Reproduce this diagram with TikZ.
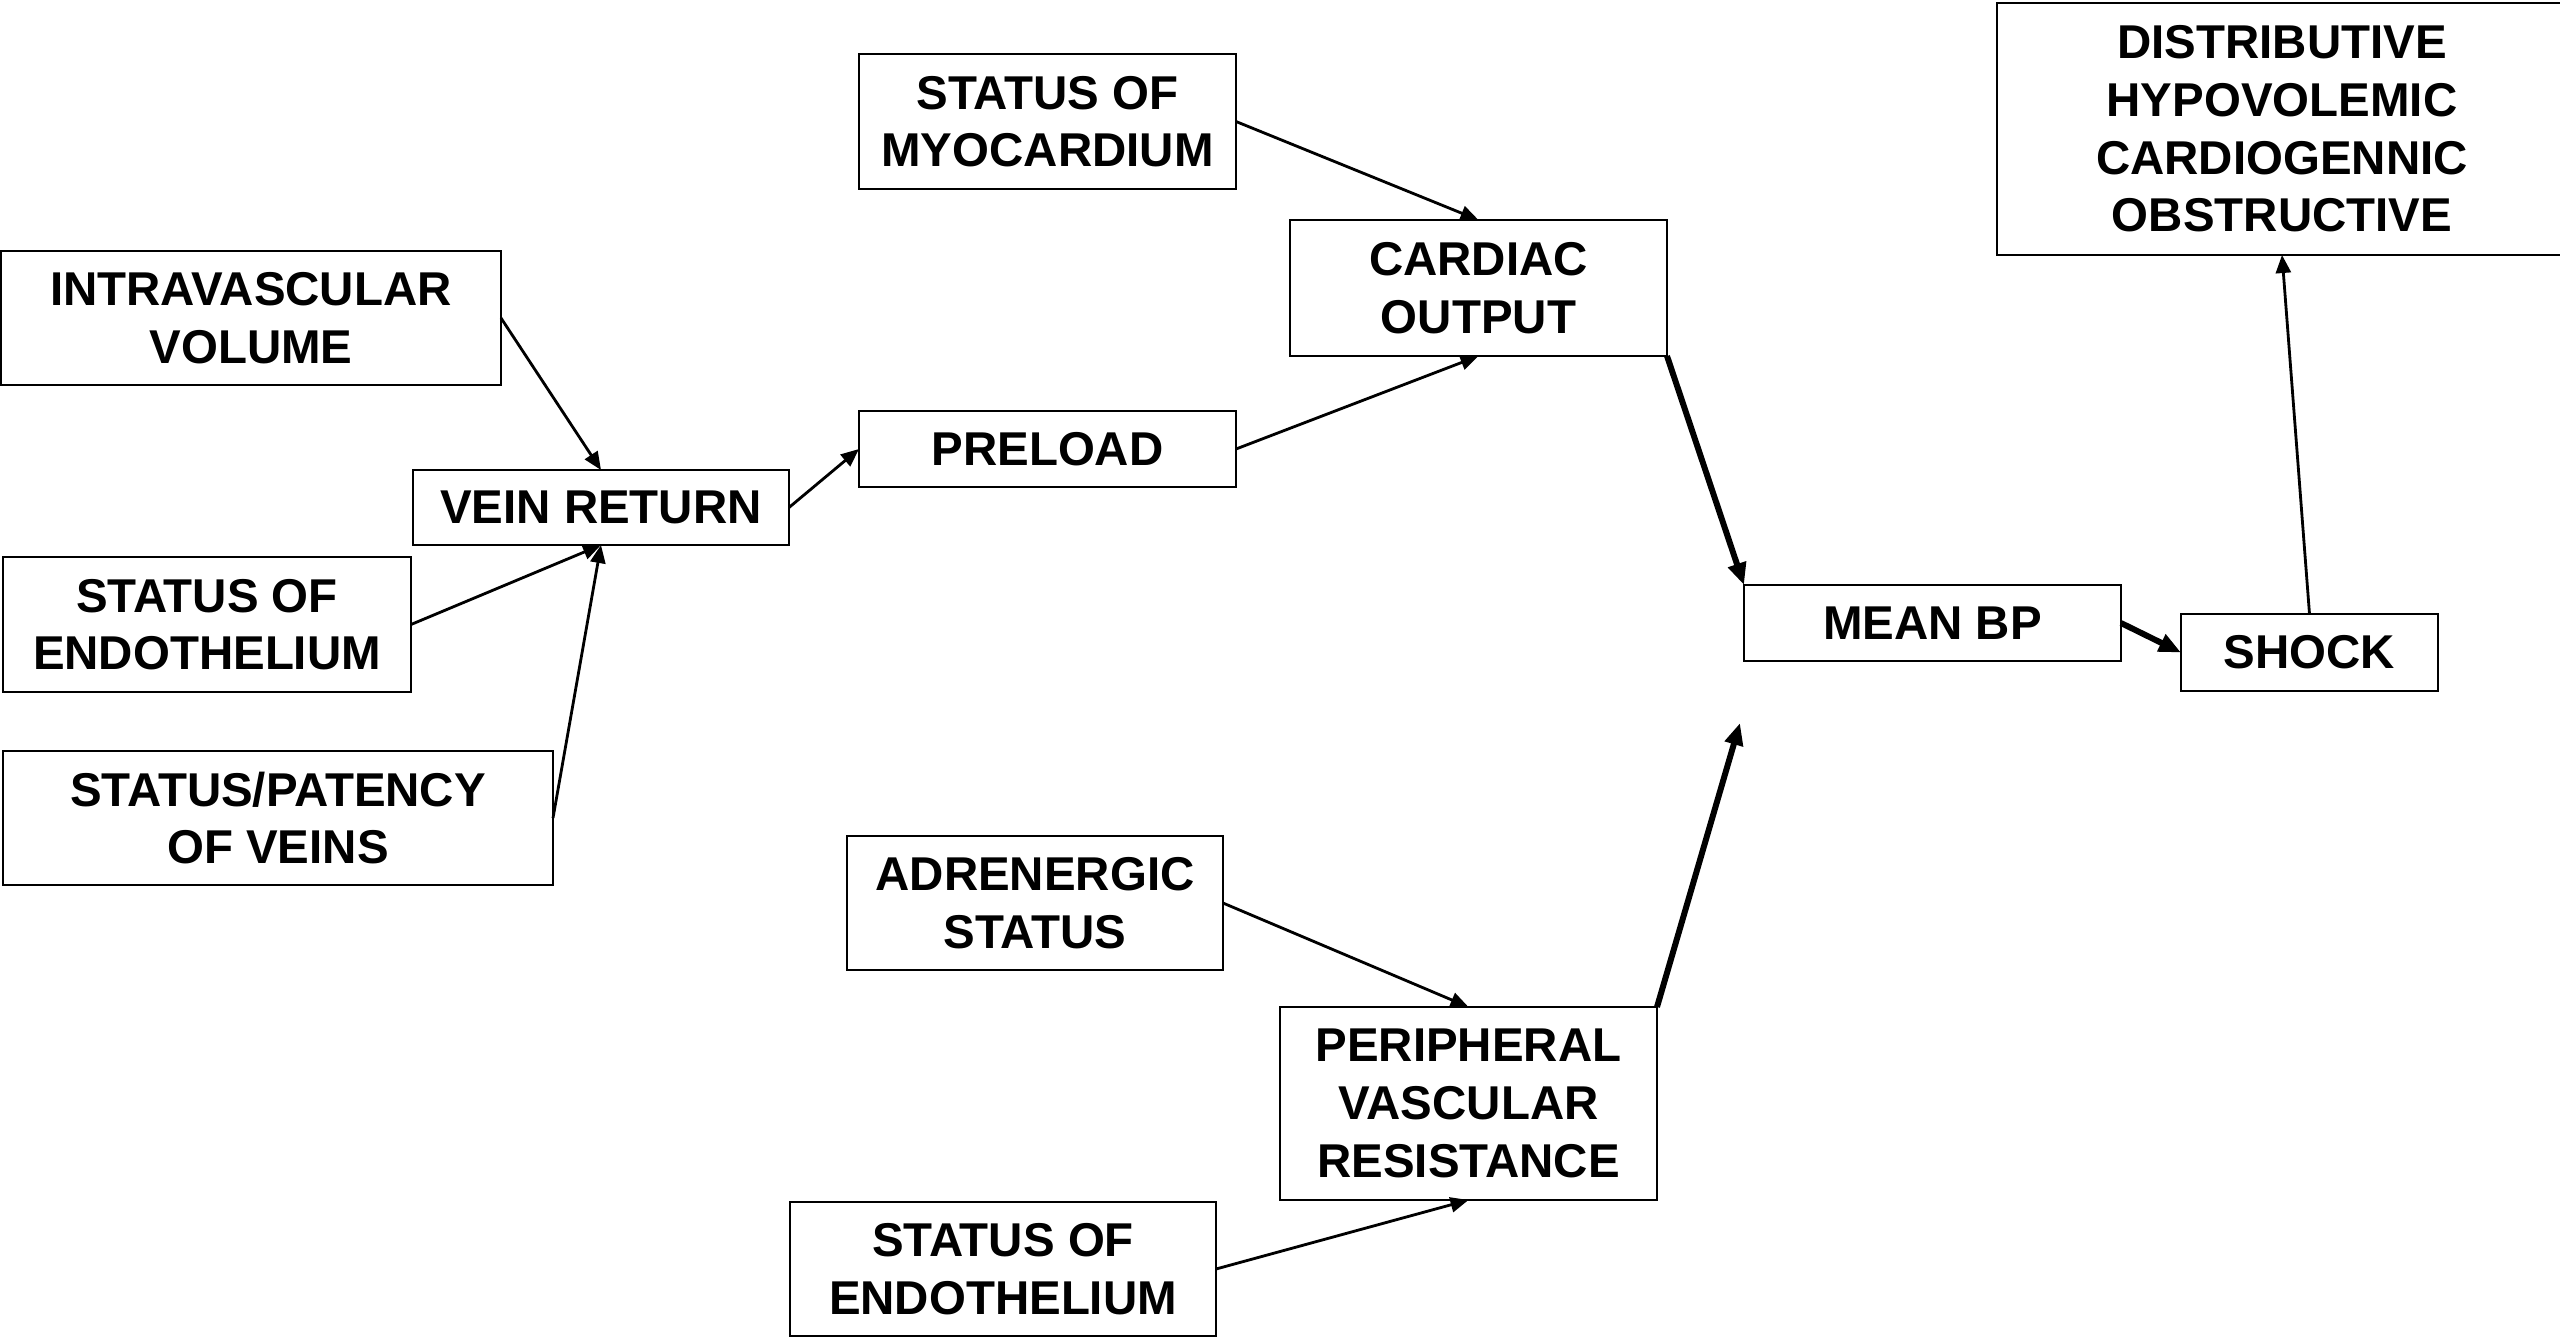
\documentclass[tikz,border=0pt]{standalone}
\usepackage{fontspec}
\setmainfont{Liberation Sans}
\usetikzlibrary{arrows.meta}

\tikzset{
  box/.style={draw=black, line width=0.75pt, rectangle, inner sep=0pt, outer sep=0pt,
    align=center, font=\fontsize{13.5}{16.4}\selectfont\bfseries},
  thin arrow/.style={line width=0.8pt, -{Triangle[length=1.8mm, width=1.5mm]}},
  thick arrow/.style={line width=1.7pt, -{Triangle[length=2.2mm, width=1.8mm]}},
  plain link/.style={line width=0.8pt, -{Triangle[length=1.8mm, width=1.5mm]}}
}

\begin{document}
\begin{tikzpicture}[x=0.1mm, y=-0.1mm]
\useasboundingbox (0,0) rectangle (2560,1340);

% factors feeding venous return
\node[box, minimum width=50.0mm, minimum height=13.4mm] (intra) at (251,318) {INTRAVASCULAR\\VOLUME};
\node[box, minimum width=40.8mm, minimum height=13.5mm] (endoA) at (207,624.5) {STATUS OF\\ENDOTHELIUM};
\node[box, minimum width=55.0mm, minimum height=13.4mm] (patency) at (278,818) {STATUS/PATENCY\\OF VEINS};
\node[box, minimum width=37.6mm, minimum height=7.5mm] (vein) at (601,507.5) {VEIN RETURN};

% cardiac output branch
\node[box, minimum width=37.7mm, minimum height=13.5mm] (myo) at (1047.5,121.5) {STATUS OF\\MYOCARDIUM};
\node[box, minimum width=37.7mm, minimum height=7.6mm] (preload) at (1047.5,449) {PRELOAD};
\node[box, minimum width=37.7mm, minimum height=13.6mm] (co) at (1478.5,288) {CARDIAC\\OUTPUT};

% resistance branch
\node[box, minimum width=37.6mm, minimum height=13.4mm] (adren) at (1035,903) {ADRENERGIC\\STATUS};
\node[box, minimum width=37.7mm, minimum height=19.3mm] (pvr) at (1468.5,1103.5) {PERIPHERAL\\VASCULAR\\RESISTANCE};
\node[box, minimum width=42.6mm, minimum height=13.4mm] (endoB) at (1003,1269) {STATUS OF\\ENDOTHELIUM};

% outcome
\node[box, minimum width=37.7mm, minimum height=7.6mm] (meanbp) at (1932.5,623) {MEAN BP};
\node[box, minimum width=25.7mm, minimum height=7.7mm] (shock) at (2309.5,652.5) {SHOCK};
\node[box, minimum width=57.0mm, minimum height=25.2mm] (types) at (2282,129)
  {DISTRIBUTIVE\\HYPOVOLEMIC\\CARDIOGENNIC\\OBSTRUCTIVE};

\coordinate (pvrtip) at (1740,723);

% connectors
\draw[thin arrow] (intra.east) -- (vein.north);
\draw[thin arrow] (endoA.east) -- (vein.south);
\draw[thin arrow] (patency.east) -- (vein.south);
\draw[thin arrow] (vein.east) -- (preload.west);
\draw[thin arrow] (myo.east) -- (co.north);
\draw[thin arrow] (preload.east) -- (co.south);
\draw[thin arrow] (adren.east) -- (pvr.north);
\draw[thin arrow] (endoB.east) -- (pvr.south);
\draw[thick arrow] (co.south east) -- (meanbp.north west);
\draw[thick arrow] (pvr.north east) -- (pvrtip);
\draw[thick arrow] (meanbp.east) -- (shock.west);
\draw[plain link] (shock.north) -- (types.south);
\end{tikzpicture}
\end{document}
